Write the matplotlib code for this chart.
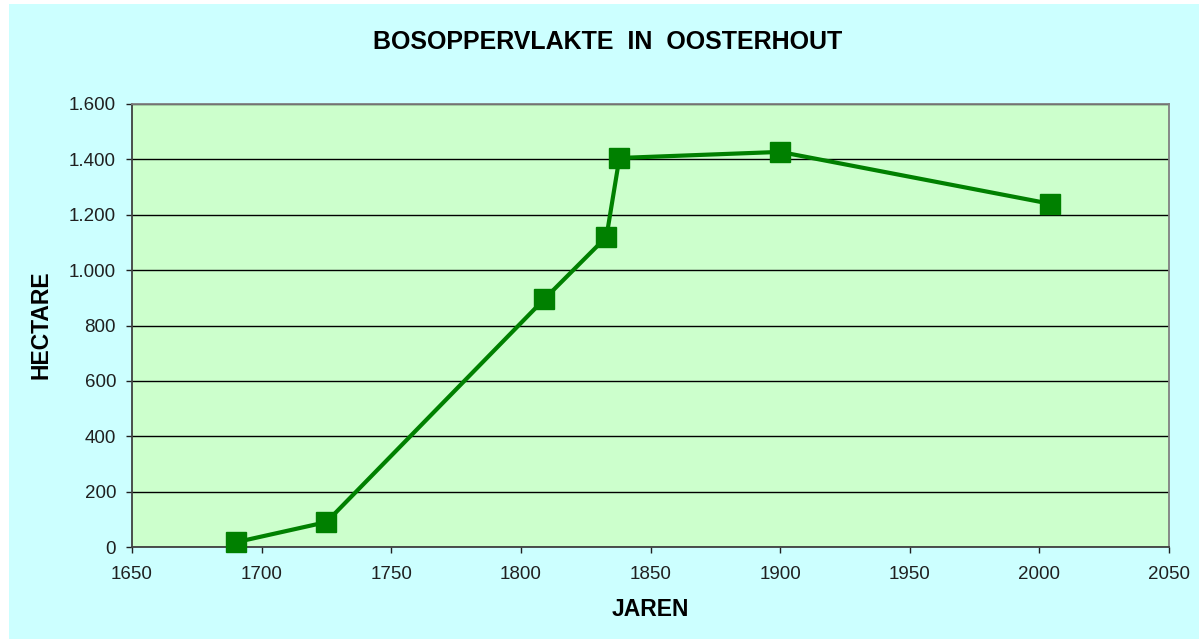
import matplotlib.pyplot as plt
from matplotlib.patches import Rectangle

# jaartallen en bosoppervlakte (hectare)
jaren = [1690, 1725, 1809, 1833, 1838, 1900, 2004]
hectare = [17, 90, 895, 1120, 1405, 1427, 1240]

x_ticks = list(range(1650, 2051, 50))
y_ticks = list(range(0, 1601, 200))
y_labels = ["{:,}".format(v).replace(",", ".") for v in y_ticks]

plt.rcParams['font.family'] = ['Liberation Sans', 'DejaVu Sans']

fig = plt.figure(figsize=(11.99, 6.39), dpi=100, facecolor='white')
# lichtblauwe achtergrond van de grafiek
fig.patches.append(Rectangle((9 / 1199, 0), 1 - 9 / 1199, 1 - 4 / 639,
                             transform=fig.transFigure, facecolor='#CCFFFF',
                             edgecolor='none', zorder=-10))

ax = fig.add_axes([132 / 1199, 1 - 547 / 639, 1037 / 1199, 443 / 639])
ax.set_facecolor('#CCFFCC')

ax.plot(jaren, hectare, color='#008000', linewidth=3, marker='s',
        markersize=13.8, clip_on=False, zorder=3)

ax.set_xlim(1650, 2050)
ax.set_ylim(0, 1600)
ax.set_xticks(x_ticks)
ax.set_yticks(y_ticks)
ax.set_yticklabels(y_labels)
ax.grid(axis='y', color='black', linewidth=1)
ax.set_axisbelow(True)

ax.tick_params(axis='both', direction='out', length=4.5, width=1,
               colors='#202020', labelsize=13.5, pad=7)
ax.tick_params(axis='x', pad=9)

for side in ['left', 'bottom']:
    ax.spines[side].set_color('#404040')
    ax.spines[side].set_linewidth(1.3)
for side in ['top', 'right']:
    ax.spines[side].set_color('#808080')
    ax.spines[side].set_linewidth(1.3)

fig.text(608 / 1199, 1 - 42 / 639, 'BOSOPPERVLAKTE  IN  OOSTERHOUT',
         ha='center', va='center', fontsize=18, fontweight='bold')
fig.text(41 / 1199, 1 - 325 / 639, 'HECTARE', rotation=90,
         ha='center', va='center', fontsize=16.5, fontweight='bold')
fig.text(650 / 1199, 1 - 609 / 639, 'JAREN',
         ha='center', va='center', fontsize=16.5, fontweight='bold')

plt.savefig('out.png', dpi=100, facecolor=fig.get_facecolor())
